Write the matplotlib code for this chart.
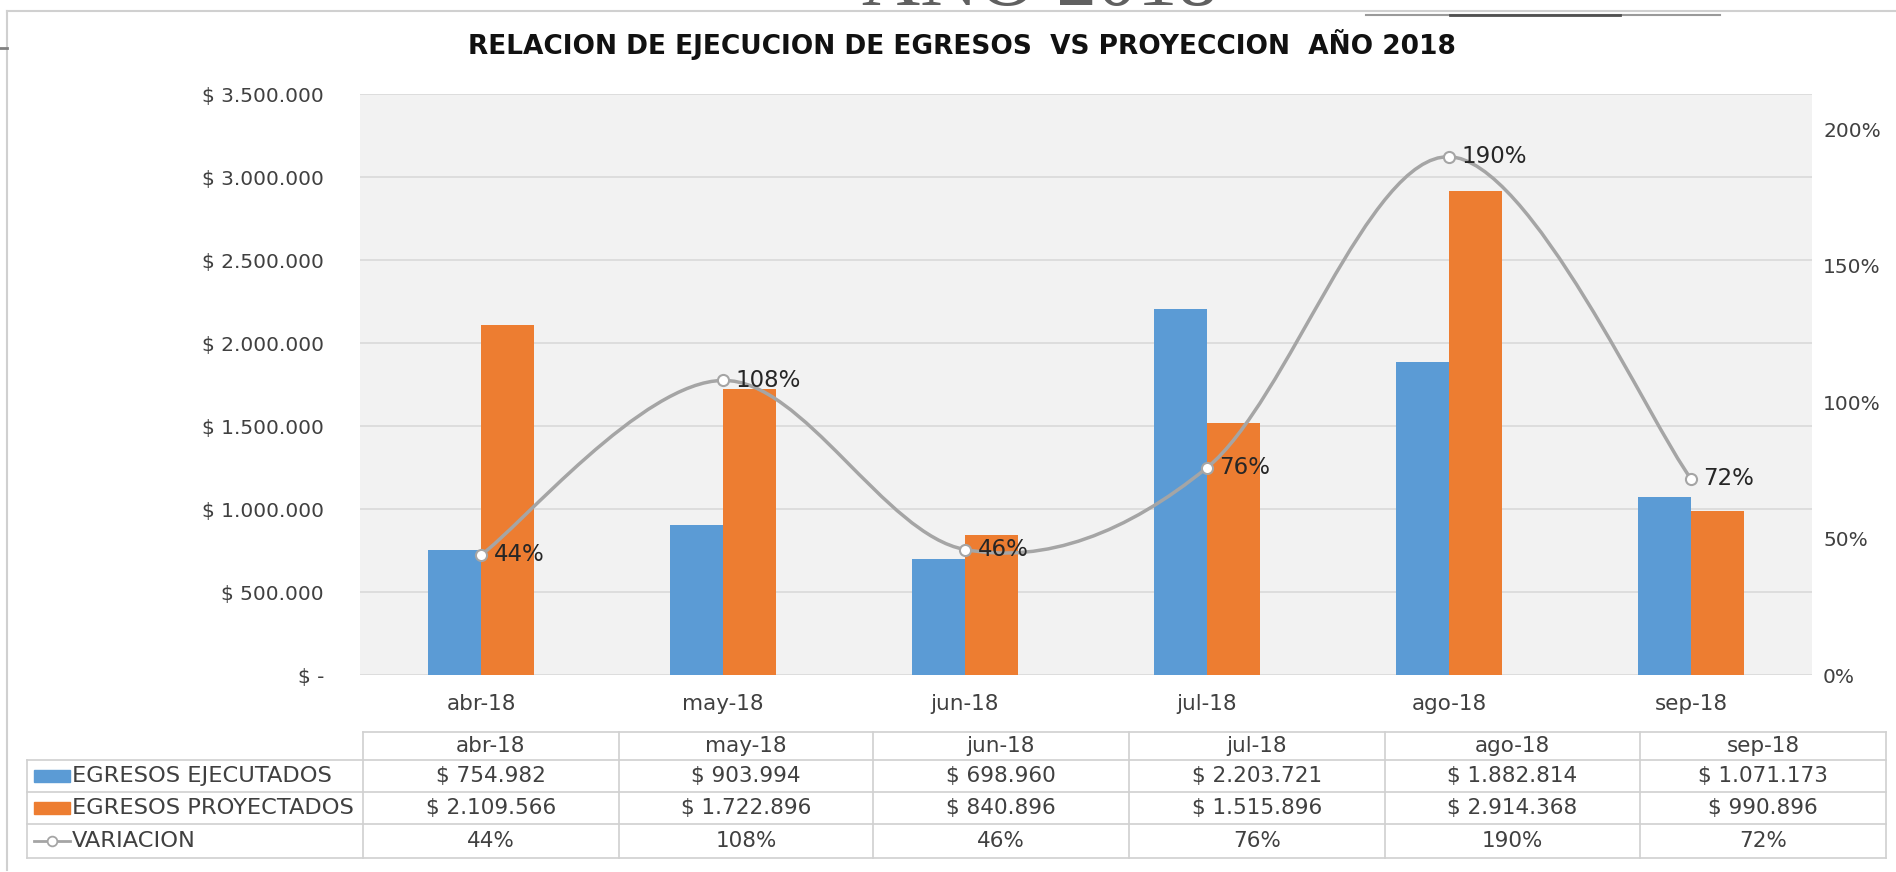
import numpy as np
import matplotlib
matplotlib.use("Agg")
import matplotlib.pyplot as plt
from matplotlib.path import Path
from matplotlib.patches import PathPatch, Rectangle
from matplotlib.lines import Line2D

plt.rcParams['font.family'] = ['DejaVu Sans']

# data
meses = ["abr-18", "may-18", "jun-18", "jul-18", "ago-18", "sep-18"]
ejecutados = [754982, 903994, 698960, 2203721, 1882814, 1071173]
proyectados = [2109566, 1722896, 840896, 1515896, 2914368, 990896]
variacion = [0.44, 1.08, 0.46, 0.76, 1.90, 0.72]
left_ticks = [0, 500000, 1000000, 1500000, 2000000, 2500000, 3000000, 3500000]
right_ticks = [0, 0.5, 1.0, 1.5, 2.0]

AZUL = "#5B9BD5"
NARANJA = "#ED7D31"
GRIS = "#A5A5A5"
TXT = "#404040"

W, H = 1896, 872
fig = plt.figure(figsize=(W / 100, H / 100), dpi=100)


def px(x0, y0, x1, y1):
    # pixel box (top-left origin) -> figure rect
    return [x0 / W, 1 - y1 / H, (x1 - x0) / W, (y1 - y0) / H]


def pesos(v):
    if v == 0:
        return "$ -"
    return "$ " + f"{v:,.0f}".replace(",", ".")


# chart frame and decorations
fig.add_artist(Line2D([7 / W, 7 / W], [1 - 870 / H, 1 - 11 / H], color="#D0D0D0", lw=1.5))
fig.add_artist(Line2D([7 / W, 1], [1 - 11 / H, 1 - 11 / H], color="#D0D0D0", lw=1.5))
fig.add_artist(Line2D([0, 7 / W], [1 - 48 / H, 1 - 48 / H], color="#808080", lw=2))
fig.add_artist(Line2D([1366 / W, 1720 / W], [1 - 15 / H, 1 - 15 / H], color="#9a9a9a", lw=1.5))
fig.add_artist(Line2D([1450 / W, 1620 / W], [1 - 15 / H, 1 - 15 / H], color="#505050", lw=2))
fig.text(1040 / W, 1 - 5 / H, "AÑO 2018", family="Liberation Serif", fontsize=58,
         color="#606060", ha="center", va="baseline")

fig.text(962 / W, 1 - 45 / H, "RELACION DE EJECUCION DE EGRESOS  VS PROYECCION  AÑO 2018",
         fontsize=19, fontweight="bold", color="#111111", ha="center", va="center")

# main chart
ax = fig.add_axes(px(360, 94, 1812, 675))
ax.set_facecolor("#F2F2F2")
x = np.arange(len(meses))
bw = 0.22
ax.bar(x - bw / 2, ejecutados, bw, color=AZUL, zorder=2)
ax.bar(x + bw / 2, proyectados, bw, color=NARANJA, zorder=2)
ax.set_xlim(-0.5, len(meses) - 0.5)
ax.set_ylim(0, 3500000)
ax.set_yticks(left_ticks)
ax.set_yticklabels([pesos(v) for v in left_ticks])
ax.set_xticks(x)
ax.set_xticklabels(meses)
ax.yaxis.grid(True, color="#D9D9D9", lw=1.2, zorder=0)
ax.set_axisbelow(True)
for s in ax.spines.values():
    s.set_visible(False)
ax.tick_params(axis="both", length=0, labelsize=14.5, colors="#404040")
ax.tick_params(axis="y", pad=26)
ax.tick_params(axis="x", pad=14, labelsize=15.5)

ax2 = ax.twinx()
ax2.set_ylim(0, 2.13)
ax2.set_yticks(right_ticks)
ax2.set_yticklabels([f"{int(round(v * 100))}%" for v in right_ticks])
ax2.tick_params(axis="y", length=0, labelsize=14.5, colors="#404040", pad=8)
for s in ax2.spines.values():
    s.set_visible(False)

# smoothed line (bezier through the points)
pts = np.column_stack([x, variacion]).astype(float)
verts = [pts[0]]
codes = [Path.MOVETO]
n = len(pts)
for i in range(n - 1):
    p0 = pts[max(i - 1, 0)]
    p1 = pts[i]
    p2 = pts[i + 1]
    p3 = pts[min(i + 2, n - 1)]
    c1 = p1 + (p2 - p0) / 6
    c2 = p2 - (p3 - p1) / 6
    verts += [c1, c2, p2]
    codes += [Path.CURVE4] * 3
ax2.add_patch(PathPatch(Path(verts, codes), facecolor="none", edgecolor=GRIS, lw=2.5, zorder=3))
ax2.plot(x, variacion, "o", color=GRIS, mfc="white", mew=1.5, ms=8, zorder=4)
for xi, v in zip(x, variacion):
    ax2.annotate(f"{int(round(v * 100))}%", (xi, v), xytext=(9, 0), textcoords="offset points",
                 fontsize=16.5, color="#262626", va="center", ha="left", zorder=5)

# data table
tb = fig.add_axes(px(0, 700, W, 872))
tb.set_xlim(0, W)
tb.set_ylim(872, 700)
tb.axis("off")
cols = [363, 619, 873, 1129, 1385, 1640, 1886]
rows = [732, 760, 792, 824, 858]
lab_left = 27
lc = "#D0D0D0"
for cx in cols:
    tb.plot([cx, cx], [rows[0], rows[-1]], color=lc, lw=1.2)
tb.plot([lab_left, lab_left], [rows[1], rows[-1]], color=lc, lw=1.2)
tb.plot([cols[0], cols[-1]], [rows[0], rows[0]], color=lc, lw=1.2)
for ry in rows[1:]:
    tb.plot([lab_left, cols[-1]], [ry, ry], color=lc, lw=1.2)

centers = [(cols[i] + cols[i + 1]) / 2 for i in range(len(meses))]
mid = [(rows[i] + rows[i + 1]) / 2 for i in range(len(rows) - 1)]
fs = 15.5
for i, m in enumerate(meses):
    tb.text(centers[i], mid[0], m, fontsize=fs, color=TXT, ha="center", va="center")
    tb.text(centers[i], mid[1], pesos(ejecutados[i]), fontsize=fs, color=TXT, ha="center", va="center")
    tb.text(centers[i], mid[2], pesos(proyectados[i]), fontsize=fs, color=TXT, ha="center", va="center")
    tb.text(centers[i], mid[3], f"{int(round(variacion[i] * 100))}%", fontsize=fs, color=TXT,
            ha="center", va="center")

series = ["EGRESOS EJECUTADOS", "EGRESOS PROYECTADOS", "VARIACION"]
tb.add_patch(Rectangle((34, mid[1] - 6), 36, 12, color=AZUL))
tb.add_patch(Rectangle((34, mid[2] - 6), 36, 12, color=NARANJA))
tb.plot([34, 70], [mid[3], mid[3]], color=GRIS, lw=2)
tb.plot([52], [mid[3]], "o", color=GRIS, mfc="white", ms=7, mew=1.3)
for j, s in enumerate(series):
    tb.text(72, mid[j + 1], s, fontsize=16.2, color=TXT, ha="left", va="center")

fig.savefig("out.png", dpi=100, facecolor="white")
